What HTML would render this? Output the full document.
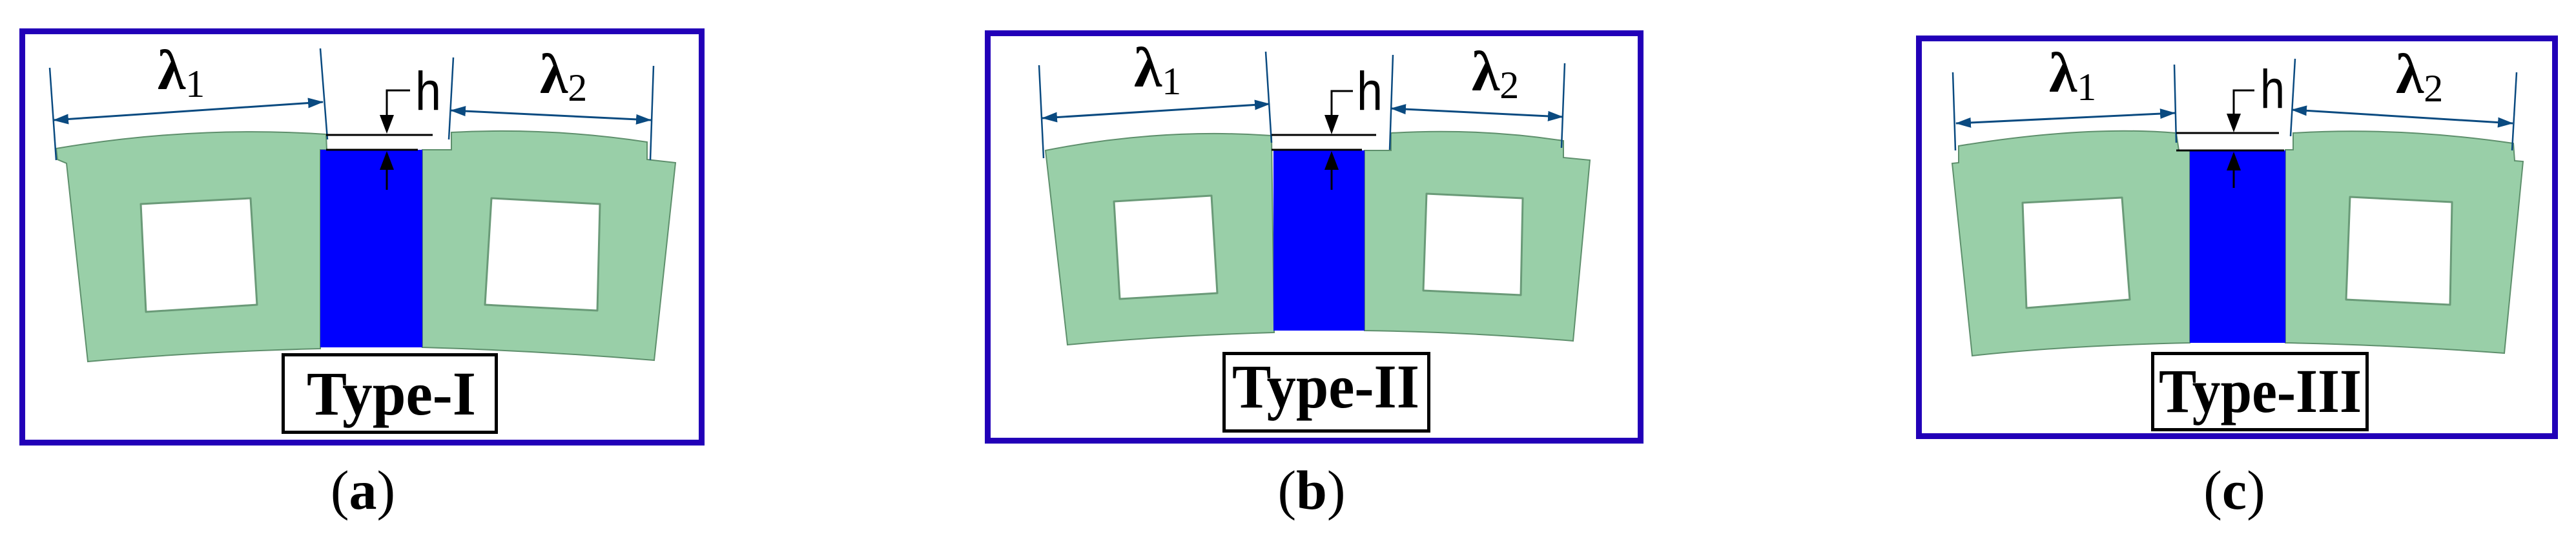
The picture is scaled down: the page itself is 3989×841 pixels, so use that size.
<!DOCTYPE html>
<html><head><meta charset="utf-8"><style>
html,body{margin:0;padding:0;background:#fff;}
svg{display:block;}
.fr{fill:none;stroke:#2200b8;stroke-width:9;}
.gr{fill:#99cfa8;stroke:#5e8f6c;stroke-width:2;}
.hole{fill:#fff;stroke:#6a9a78;stroke-width:3;stroke-linejoin:round;}
.bl{fill:#0000ff;}
.tk{stroke:#0a4a80;stroke-width:2.5;fill:none;}
.dim{stroke:#0a4a80;stroke-width:3;fill:none;marker-start:url(#ab);marker-end:url(#ab);}
.k{stroke:#000;stroke-width:3;fill:none;}
.lam{font-family:"Liberation Serif",serif;font-weight:bold;font-size:88px;fill:#000;}
.sub{font-family:"Liberation Serif",serif;font-size:60px;font-weight:normal;}
.hh{font-family:"Liberation Sans",sans-serif;font-size:84px;fill:#000;}
.tb{fill:#fff;stroke:#000;stroke-width:5;}
.tt{font-family:"Liberation Serif",serif;font-weight:bold;font-size:96px;fill:#000;}
.cap{font-family:"Liberation Serif",serif;font-size:86px;fill:#000;}
</style></head><body>
<svg width="3989" height="841" viewBox="0 0 3989 841" xmlns="http://www.w3.org/2000/svg">
<defs>
<marker id="ab" viewBox="0 0 24 16" refX="23" refY="8" markerWidth="24" markerHeight="16" markerUnits="userSpaceOnUse" orient="auto-start-reverse">
<path d="M0,0 L24,8 L0,16 Z" fill="#0a4a80"/>
</marker>
</defs>

<!-- ===== Panel a ===== -->
<rect class="fr" x="34.5" y="48.5" width="1052" height="637"/>
<path class="gr" d="M87,230 Q300,194 505,208 L506,232 L496,232 L496,540 Q300,545 136,560 L103,253 L89,247 Z"/>
<path class="gr" d="M699,205 Q850,197 1002,220 L1002,247 L1046,252 L1013,558 Q830,543 654,538 L654,232 L699,232 Z"/>
<polygon class="hole" points="218,316 388,307 398,472 226,483"/>
<polygon class="hole" points="761,307 929,316 925,481 751,472"/>
<rect class="bl" x="496" y="232" width="158" height="306"/>
<line class="tk" x1="77" y1="105" x2="87" y2="248"/>
<line class="tk" x1="496" y1="75" x2="507" y2="216"/>
<line class="tk" x1="702" y1="89" x2="695" y2="216"/>
<line class="tk" x1="1012" y1="102" x2="1007" y2="248"/>
<line class="dim" x1="83" y1="186" x2="500" y2="158"/>
<line class="dim" x1="698" y1="171" x2="1008" y2="186"/>
<polyline class="k" points="635,140 599,140 599,180"/>
<path d="M588,178 L610,178 L599,207 Z" fill="#000"/>
<line class="k" x1="505" y1="209" x2="670" y2="209"/>
<line class="k" x1="505" y1="232" x2="647" y2="232"/>
<line class="k" x1="599" y1="294" x2="599" y2="260"/>
<path d="M588,263 L610,263 L599,234 Z" fill="#000"/>
<text class="hh" x="643" y="170" textLength="40" lengthAdjust="spacingAndGlyphs">h</text>
<text class="lam" x="244" y="138">λ<tspan class="sub" dy="12">1</tspan></text>
<text class="lam" x="836" y="144">λ<tspan class="sub" dy="12">2</tspan></text>
<rect class="tb" x="438.5" y="549.5" width="330" height="120"/>
<text class="tt" x="475" y="642" textLength="262" lengthAdjust="spacingAndGlyphs">Type-I</text>
<text class="cap" x="562" y="788" text-anchor="middle">(<tspan font-weight="bold">a</tspan>)</text>

<!-- ===== Panel b ===== -->
<rect class="fr" x="1529.5" y="51.5" width="1011" height="631"/>
<path class="gr" d="M1619,233 Q1795,198 1969,210 L1973,515 Q1800,520 1653,534 Z"/>
<path class="gr" d="M2154,206 Q2290,198 2421,218 L2421,244 L2462,248 L2436,528 Q2270,514 2113,512 L2113,233 L2154,233 Z"/>
<polygon class="hole" points="1725,312 1876,303 1885,454 1734,463"/>
<polygon class="hole" points="2209,300 2358,307 2355,457 2204,450"/>
<rect class="bl" x="1972" y="233" width="141" height="279"/>
<line class="tk" x1="1609" y1="101" x2="1616" y2="245"/>
<line class="tk" x1="1960" y1="80" x2="1969" y2="221"/>
<line class="tk" x1="2157" y1="85" x2="2152" y2="232"/>
<line class="tk" x1="2423" y1="98" x2="2418" y2="229"/>
<line class="dim" x1="1614" y1="183" x2="1966" y2="161"/>
<line class="dim" x1="2154" y1="168" x2="2420" y2="181"/>
<polyline class="k" points="2095,141 2062,141 2062,180"/>
<path d="M2051,178 L2073,178 L2062,208 Z" fill="#000"/>
<line class="k" x1="1969" y1="209" x2="2131" y2="209"/>
<line class="k" x1="1969" y1="232" x2="2109" y2="232"/>
<line class="k" x1="2062" y1="294" x2="2062" y2="260"/>
<path d="M2051,263 L2073,263 L2062,234 Z" fill="#000"/>
<text class="hh" x="2101" y="170" textLength="40" lengthAdjust="spacingAndGlyphs">h</text>
<text class="lam" x="1756" y="134">λ<tspan class="sub" dy="12">1</tspan></text>
<text class="lam" x="2279" y="140">λ<tspan class="sub" dy="12">2</tspan></text>
<rect class="tb" x="1895.5" y="547.5" width="317" height="120"/>
<text class="tt" x="1908" y="631" textLength="290" lengthAdjust="spacingAndGlyphs">Type-II</text>
<text class="cap" x="2031" y="788" text-anchor="middle">(<tspan font-weight="bold">b</tspan>)</text>

<!-- ===== Panel c ===== -->
<rect class="fr" x="2971.5" y="59.5" width="985" height="616"/>
<path class="gr" d="M3033,226 Q3229,194 3370,206 L3374,233 L3391,233 L3391,531 Q3200,535 3054,551 L3023,253 L3033,252 Z"/>
<path class="gr" d="M3551,206 Q3713,196 3892,222 L3894,249 L3907,250 L3878,547 Q3700,534 3539,531 L3539,232 L3551,232 Z"/>
<polygon class="hole" points="3132,314 3286,306 3298,464 3138,477"/>
<polygon class="hole" points="3639,305 3797,313 3794,472 3633,464"/>
<rect class="bl" x="3391" y="233" width="148" height="298"/>
<line class="tk" x1="3024" y1="112" x2="3028" y2="233"/>
<line class="tk" x1="3367" y1="100" x2="3370" y2="221"/>
<line class="tk" x1="3554" y1="91" x2="3547" y2="211"/>
<line class="tk" x1="3897" y1="112" x2="3890" y2="233"/>
<line class="dim" x1="3029" y1="191" x2="3368" y2="175"/>
<line class="dim" x1="3549" y1="170" x2="3891" y2="191"/>
<polyline class="k" points="3491,140 3459,140 3459,178"/>
<path d="M3448,176 L3470,176 L3459,205 Z" fill="#000"/>
<line class="k" x1="3370" y1="206" x2="3529" y2="206"/>
<line class="k" x1="3370" y1="233" x2="3537" y2="233"/>
<line class="k" x1="3459" y1="291" x2="3459" y2="262"/>
<path d="M3448,264 L3470,264 L3459,235 Z" fill="#000"/>
<text class="hh" x="3500" y="167" textLength="38" lengthAdjust="spacingAndGlyphs">h</text>
<text class="lam" x="3173" y="142">λ<tspan class="sub" dy="13">1</tspan></text>
<text class="lam" x="3710" y="144">λ<tspan class="sub" dy="13">2</tspan></text>
<rect class="tb" x="3333.5" y="547.5" width="332" height="118"/>
<text class="tt" x="3343" y="638" textLength="314" lengthAdjust="spacingAndGlyphs">Type-III</text>
<text class="cap" x="3460" y="788" text-anchor="middle">(<tspan font-weight="bold">c</tspan>)</text>
</svg>
</body></html>
